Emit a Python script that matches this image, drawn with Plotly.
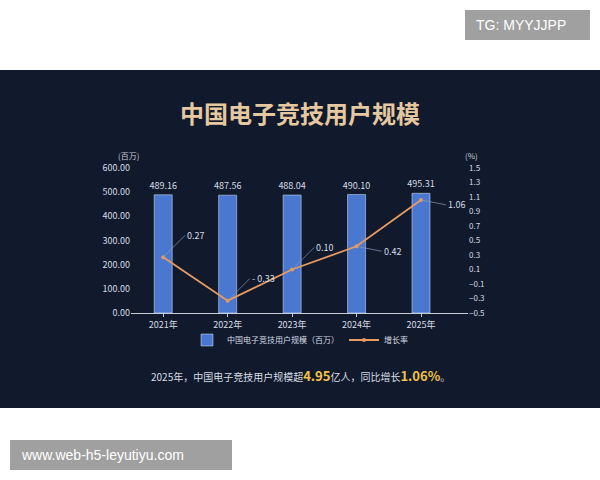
import plotly.graph_objects as go

years = ['2021年', '2022年', '2023年', '2024年', '2025年']
users = [489.16, 487.56, 488.04, 490.10, 495.31]
growth = [0.27, -0.33, 0.10, 0.42, 1.06]
growth_text = ['0.27', '- 0.33', '0.10', '0.42', '1.06']
label_offsets = [(22, -22), (22, -22), (22, -22), (25, 5), (25, 5)]

W, H = 600, 480
px = lambda x: x / W
py = lambda y: 1 - y / H

fig = go.Figure()
fig.add_trace(go.Bar(x=years, y=users, name='中国电子竞技用户规模（百万）', marker_color='#4a78d0',
                     width=0.28, text=[f'{v:.2f}' for v in users], textposition='outside',
                     constraintext='none',
                     textfont=dict(color='#d8dce4', size=9), cliponaxis=False))
fig.add_trace(go.Scatter(x=years, y=growth, name='增长率', yaxis='y2', mode='lines+markers',
                         line=dict(color='#e89a60', width=1.8), marker=dict(size=4, color='#e89a60')))

for yr, g, t, (ax, ay) in zip(years, growth, growth_text, label_offsets):
    fig.add_annotation(x=yr, y=g, yref='y2', text=t, showarrow=True, arrowhead=0, arrowwidth=0.7,
                       arrowcolor='#8a9ab8', ax=ax, ay=ay, xanchor='left',
                       font=dict(color='#d8dce4', size=9))

fig.add_shape(type='rect', xref='paper', yref='paper', x0=0, x1=1, y0=py(408), y1=py(70),
              fillcolor='#101a2c', line_width=0, layer='below')
fig.add_shape(type='rect', xref='paper', yref='paper', x0=px(465), x1=px(590), y0=py(40), y1=py(10),
              fillcolor='#a0a0a0', line_width=0, layer='below')
fig.add_shape(type='rect', xref='paper', yref='paper', x0=px(10), x1=px(232), y0=py(470), y1=py(440),
              fillcolor='#a0a0a0', line_width=0, layer='below')
fig.add_annotation(xref='paper', yref='paper', x=px(474), y=py(25), text='TG: MYYJJPP', showarrow=False,
                   xanchor='left', yanchor='middle', font=dict(color='white', size=14, family='Liberation Sans'))
fig.add_annotation(xref='paper', yref='paper', x=px(19), y=py(455), text='www.web-h5-leyutiyu.com',
                   showarrow=False, xanchor='left', yanchor='middle',
                   font=dict(color='white', size=14, family='Liberation Sans'))
fig.add_annotation(xref='paper', yref='paper', x=0.5, y=py(112), text='<b>中国电子竞技用户规模</b>',
                   showarrow=False, yanchor='middle', font=dict(color='#e6c8a0', size=24))
fig.add_annotation(xref='paper', yref='paper', x=px(116), y=py(155), text='(百万)', showarrow=False,
                   yanchor='middle', font=dict(color='#c8ccd4', size=8))
fig.add_annotation(xref='paper', yref='paper', x=px(480), y=py(155), text='(%)', showarrow=False,
                   yanchor='middle', font=dict(color='#c8ccd4', size=8))
fig.add_annotation(xref='paper', yref='paper', x=0.5, y=py(375), yanchor='middle',
                   text='2025年，中国电子竞技用户规模超<b><span style="color:#f5c242;font-size:13px">4.95</span></b>亿人，同比增长<b><span style="color:#f5c242;font-size:13px">1.06%</span></b>。',
                   showarrow=False, font=dict(color='#d8dce4', size=10))

fig.update_layout(
    width=W, height=H, margin=dict(l=0, r=0, t=0, b=0, autoexpand=False),
    paper_bgcolor='white', plot_bgcolor='rgba(0,0,0,0)',
    font=dict(family='Noto Sans CJK SC', color='#d8dce4', size=9),
    xaxis=dict(domain=[px(131), px(468)], showline=True, linecolor='#c8ccd4', ticks='outside',
               tickcolor='#c8ccd4', ticklen=3, tickfont=dict(size=9), showgrid=False, automargin=False),
    yaxis=dict(domain=[py(313), py(168)], range=[0, 600], dtick=100, tickformat='.2f',
               showgrid=False, zeroline=False, tickfont=dict(size=9), automargin=False),
    yaxis2=dict(overlaying='y', side='right', range=[-0.5, 1.5], tick0=-0.5, dtick=0.2, tickformat='.1f',
                showgrid=False, zeroline=False, tickfont=dict(size=8), anchor='x', automargin=False),
    showlegend=True,
    legend=dict(orientation='h', x=0.5, xanchor='center', y=py(340), yanchor='middle',
                font=dict(size=8, color='#d8dce4'), bgcolor='rgba(0,0,0,0)'),
)

fig.write_html('out.html', config={'displayModeBar': False},
               post_script="document.body.style.margin='0';document.body.style.overflow='hidden';")
